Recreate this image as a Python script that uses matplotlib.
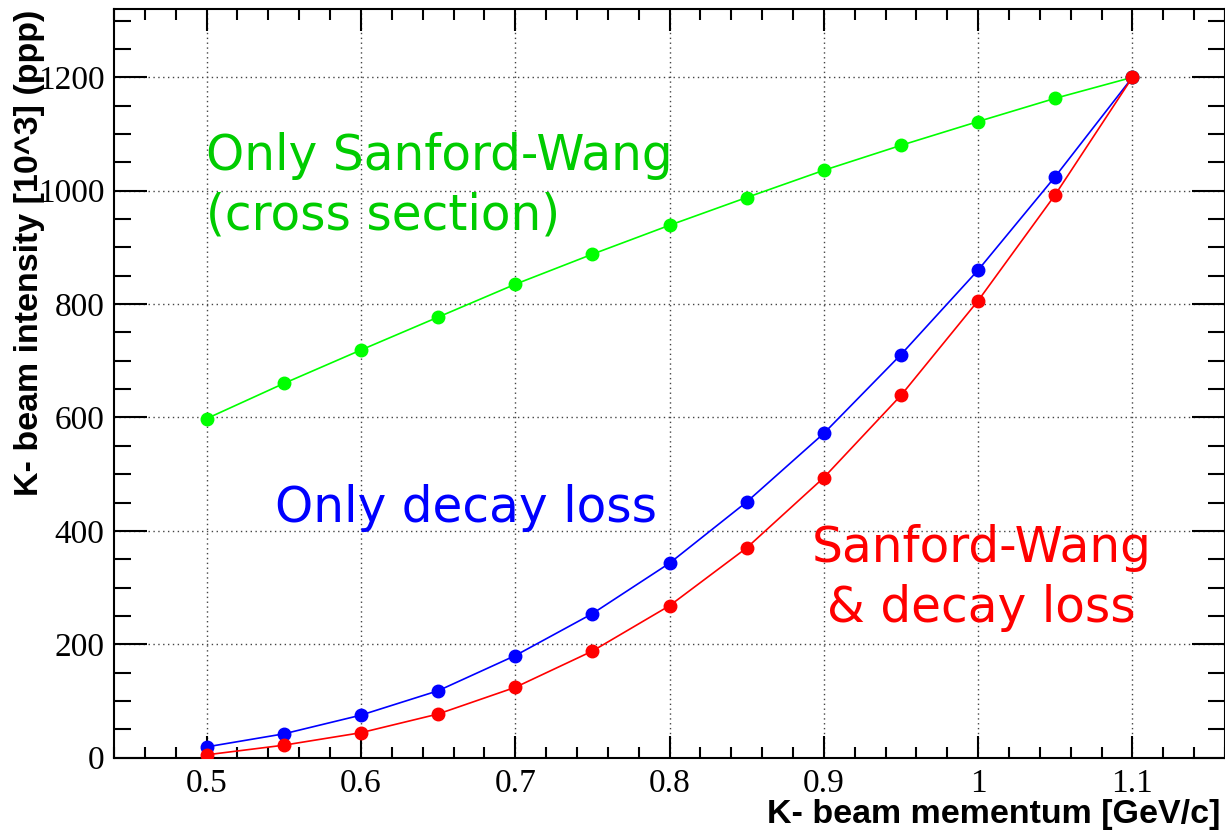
import numpy as np
import matplotlib
matplotlib.use("Agg")
import matplotlib.pyplot as plt
from matplotlib.ticker import MultipleLocator

# K- beam momentum points [GeV/c]
momentum = [0.50, 0.55, 0.60, 0.65, 0.70, 0.75, 0.80, 0.85, 0.90, 0.95, 1.00, 1.05, 1.10]

# intensity [10^3 ppp] for each assumption
only_sw = [598, 660, 719, 777, 835, 888, 939, 988, 1036, 1080, 1122, 1163, 1200]
only_decay = [19, 42, 75, 118, 180, 254, 343, 451, 572, 711, 860, 1025, 1200]
sw_decay = [5, 22, 44, 77, 124, 188, 268, 370, 494, 639, 806, 993, 1200]

fig = plt.figure(figsize=(12.25, 8.36), dpi=100)
ax = fig.add_axes([0.0931, 0.0937, 0.9069, 0.8952])

ax.plot(momentum, only_sw, "-o", color="#00ff00", lw=1.2, ms=9, zorder=3)
ax.plot(momentum, only_decay, "-o", color="#0000ff", lw=1.2, ms=9, zorder=3)
ax.plot(momentum, sw_decay, "-o", color="#ff0000", lw=1.2, ms=9, zorder=3)

ax.set_xlim(0.44, 1.16)
ax.set_ylim(0, 1320)

ax.xaxis.set_major_locator(MultipleLocator(0.1))
ax.xaxis.set_minor_locator(MultipleLocator(0.02))
ax.yaxis.set_major_locator(MultipleLocator(200))
ax.yaxis.set_minor_locator(MultipleLocator(50))
ax.xaxis.set_major_formatter(plt.FuncFormatter(lambda v, p: ("%g" % round(v, 2))))

ax.grid(True, which="major", color="#444444", linestyle=(0, (1, 2.5)), linewidth=1.0)
ax.set_axisbelow(True)

ax.tick_params(axis="both", labelsize=24, labelfontfamily="Liberation Serif")
ax.tick_params(axis="x", which="major", direction="in", length=16, width=1.5, top=True, pad=8)
ax.tick_params(axis="x", which="minor", direction="in", length=8, width=1.5, top=True)
ax.tick_params(axis="y", which="major", direction="in", length=24, width=1.5, right=True, pad=7)
ax.tick_params(axis="y", which="minor", direction="in", length=12, width=1.5, right=True)
for spine in ax.spines.values():
    spine.set_linewidth(1.5)

# text labels on the curves
ax.text(0.4995, 931, "Only Sanford-Wang\n(cross section)", color="#00cc00",
        fontsize=35, family="DejaVu Sans", ha="left", va="baseline", linespacing=1.3)
ax.text(0.5445, 416, "Only decay loss", color="#0000ff",
        fontsize=35, family="DejaVu Sans", ha="left", va="baseline")
ax.text(1.002, 240, "Sanford-Wang\n& decay loss", color="#ff0000",
        fontsize=35, family="DejaVu Sans", ha="center", va="baseline",
        multialignment="center", linespacing=1.3)

fig.text(30 / 1225, 1 - 10 / 836, "K- beam intensity [10^3] (ppp)", rotation=90,
         ha="center", va="top", fontsize=24.5, fontweight="bold", family="Liberation Sans")
fig.text(1220 / 1225, 1 - 815 / 836, "K- beam mementum [GeV/c]",
         ha="right", va="center", fontsize=24.5, fontweight="bold", family="Liberation Sans")

fig.savefig("out.png", dpi=100)
